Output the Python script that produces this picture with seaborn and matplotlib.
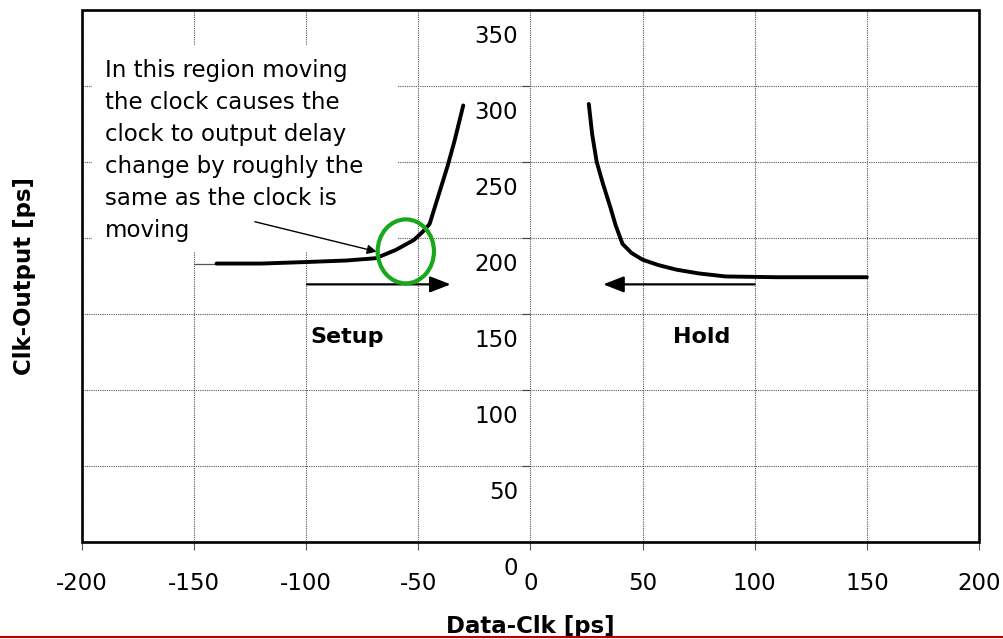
import matplotlib
matplotlib.use("Agg")
import matplotlib.pyplot as plt
import seaborn as sns
from matplotlib.patches import Ellipse, Rectangle
from matplotlib.lines import Line2D
from matplotlib.transforms import ScaledTranslation

# data
setup_x = [-140, -120, -100, -82, -69, -60, -52, -48, -45, -41, -37, -34, -30]
setup_y = [183, 183, 184, 185, 186.5, 192, 198.5, 204, 209, 228, 247, 263, 287]
hold_x = [26, 27.5, 29.5, 32, 35.5, 38, 41, 45, 50, 57, 65, 75, 87, 110, 150]
hold_y = [288, 268, 250, 237, 220.5, 208, 196, 190, 185.5, 182, 179, 176.5, 174.5, 174, 174]
stub_x = [-150, -140]
stub_y = [183, 183]

x_ticks = [-200, -150, -100, -50, 0, 50, 100, 150, 200]
y_ticks = [0, 50, 100, 150, 200, 250, 300, 350]

note = ("In this region moving\nthe clock causes the\nclock to output delay\n"
        "change by roughly the\nsame as the clock is\nmoving")

sns.set_theme(style="white")
plt.rcParams['font.family'] = ['DejaVu Sans']
plt.rcParams['text.color'] = 'black'
plt.rcParams['axes.labelcolor'] = 'black'
plt.rcParams['xtick.labelcolor'] = 'black'
plt.rcParams['ytick.labelcolor'] = 'black'
fs = 16.5

fig = plt.figure(figsize=(10.04, 6.39), dpi=100)
ax = fig.add_axes([82 / 1004, 1 - 541.7 / 639, 897 / 1004, 532 / 639])

grid_kw = dict(color="#555555", lw=0.8, ls=(0, (1, 1)), zorder=1)
for xv in x_ticks:
    ax.axvline(xv, **grid_kw)
for yv in y_ticks:
    ax.axhline(yv, **grid_kw)

sns.lineplot(x=setup_x, y=setup_y, ax=ax, color="black", lw=2.8, sort=False,
             estimator=None, zorder=4)
sns.lineplot(x=hold_x, y=hold_y, ax=ax, color="black", lw=2.8, sort=False,
             estimator=None, zorder=4)
sns.lineplot(x=stub_x, y=stub_y, ax=ax, color="#555555", lw=0.9, sort=False,
             estimator=None, zorder=3)

ax.set_xlim(-200, 200)
ax.set_ylim(0, 350)
ax.set_xticks(x_ticks)
ax.set_xticklabels([str(v) for v in x_ticks])
ax.set_yticks(y_ticks)
ax.set_yticklabels([str(v) for v in y_ticks])

# frame drawn as a box, y axis crossing at x = 0
for s in ax.spines.values():
    s.set_visible(False)
ax.spines['left'].set_position(('data', 0))
ax.add_patch(Rectangle((0, 0), 1, 1, transform=ax.transAxes, fill=False,
                       edgecolor="black", lw=1.9, clip_on=False, zorder=10))

ax.tick_params(axis='x', bottom=True, direction='out', length=5.8, width=0.8,
               color="#555555", labelsize=fs, pad=16)
ax.tick_params(axis='y', left=True, direction='out', length=5.8, width=0.8,
               color="#333333", labelsize=fs, pad=3)

ax.set_xlabel("Data-Clk [ps]", fontsize=fs, fontweight="bold")
ax.xaxis.set_label_coords(0.5, -0.138)
ax.set_ylabel("Clk-Output [ps]", fontsize=fs, fontweight="bold")
ax.yaxis.set_label_coords(-0.051, 0.5)

# annotation box
ax.add_patch(Rectangle((-195.5, 190.6), 136.5, 136.2, facecolor="white",
                       edgecolor="none", zorder=2))
ax.text(-189.7, 317.5, note, fontsize=fs, ha="left", va="top",
        linespacing=1.5, zorder=5)
ax.annotate("", xy=(-68.6, 190.8), xytext=(-122.9, 210.5),
            arrowprops=dict(arrowstyle="-|>", lw=1.0, color="black",
                            mutation_scale=14, shrinkA=0, shrinkB=0), zorder=5)

ax.add_patch(Ellipse((-55.6, 191), 25.1, 42.1, fill=False, edgecolor="#19a819",
                     lw=3, zorder=6))

ax.annotate("", xy=(-35.6, 169.3), xytext=(-99.7, 169.3),
            arrowprops=dict(arrowstyle="-|>,head_length=0.9,head_width=0.35",
                            lw=1.6, color="black", shrinkA=0, shrinkB=0,
                            mutation_scale=14), zorder=5)
ax.annotate("", xy=(32.4, 169.3), xytext=(100, 169.3),
            arrowprops=dict(arrowstyle="-|>,head_length=0.9,head_width=0.35",
                            lw=1.6, color="black", shrinkA=0, shrinkB=0,
                            mutation_scale=14), zorder=5)

ax.text(-81.6, 134.5, "Setup", fontsize=fs - 0.5, fontweight="bold", ha="center", va="center")
ax.text(76.5, 134.5, "Hold", fontsize=fs - 0.5, fontweight="bold", ha="center", va="center")

fig.add_artist(Line2D([0, 1], [0.003, 0.003], color="#c00000", lw=1.5,
                      transform=fig.transFigure))

# y tick labels sit a little below their grid lines
fig.canvas.draw()
off = ScaledTranslation(0, -0.24, fig.dpi_scale_trans)
for t in ax.yaxis.get_major_ticks():
    t.label1.set_transform(t.label1.get_transform() + off)

fig.savefig("out.png", dpi=100)
